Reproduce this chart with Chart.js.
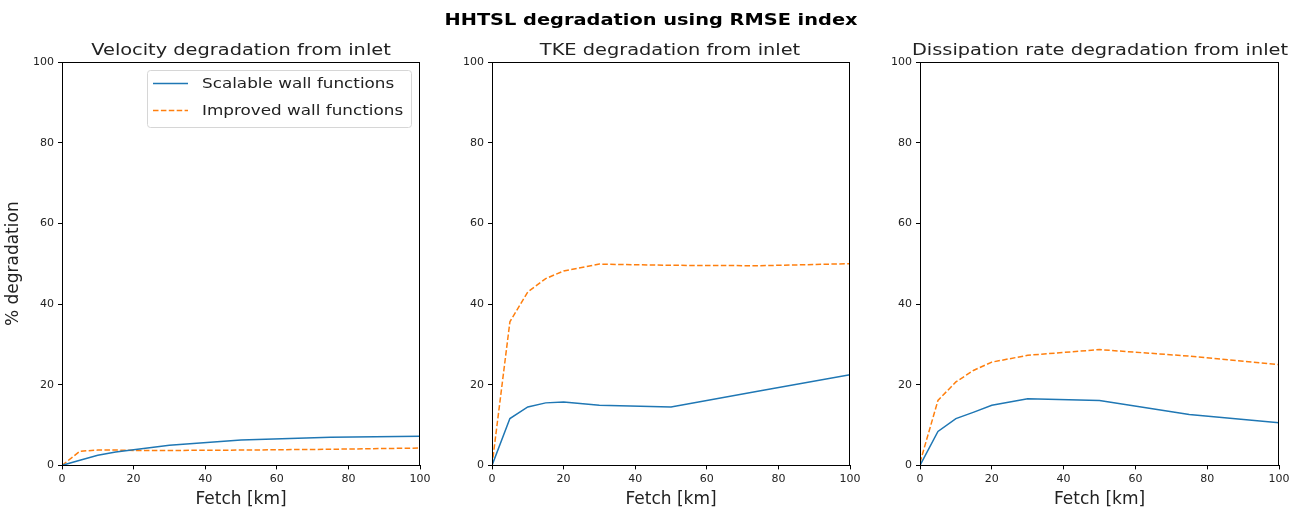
<!DOCTYPE html>
<html>
<head>
<meta charset="utf-8">
<script src="https://cdn.jsdelivr.net/npm/chart.js@4.4.1/dist/chart.umd.min.js"></script>
<style>
  html, body { margin:0; padding:0; background:#fff; width:1303px; height:513px; overflow:hidden; }
  .panel { position:absolute; top:0; height:513px; }
  .ttl { position:absolute; width:600px; text-align:center; font-family:"DejaVu Sans"; font-size:16px;
    line-height:20px; color:#222; white-space:nowrap; transform:scaleX(1.21); transform-origin:center; }
  #suptitle { top:10px; left:351px; font-weight:bold; color:#000; }
</style>
</head>
<body>
<div class="panel" style="left:0px;width:482px"><canvas id="c1"></canvas></div>
<div class="panel" style="left:430px;width:482px"><canvas id="c2"></canvas></div>
<div class="panel" style="left:858px;width:483px"><canvas id="c3"></canvas></div>
<div id="suptitle" class="ttl">HHTSL degradation using RMSE index</div>
<div id="t1" class="ttl" style="top:40px;left:-59px"></div>
<div id="t2" class="ttl" style="top:40px;left:370px"></div>
<div id="t3" class="ttl" style="top:40px;left:800px"></div>
<script>
const fetchKm = [0, 5, 10, 15, 20, 30, 50, 75, 100];
const seriesNames = ["Scalable wall functions", "Improved wall functions"];
const panelTitles = ["Velocity degradation from inlet", "TKE degradation from inlet", "Dissipation rate degradation from inlet"];
const velScalable = [0, 1.3, 2.5, 3.3, 3.9, 5.0, 6.3, 7.0, 7.2];
const velImproved = [0, 3.5, 3.8, 3.8, 3.7, 3.7, 3.8, 4.0, 4.3];
const tkeScalable = [0, 11.6, 14.5, 15.5, 15.7, 14.9, 14.5, 18.5, 22.5];
const tkeImproved = [0, 35.6, 43.0, 46.3, 48.2, 49.9, 49.6, 49.5, 50.0];
const dissScalable = [0, 8.4, 11.6, 13.2, 14.9, 16.5, 16.1, 12.6, 10.6];
const dissImproved = [0.7, 16.1, 20.7, 23.6, 25.6, 27.3, 28.7, 27.1, 25.0];
const yTicks = [0, 20, 40, 60, 80, 100];
const xTicks = [0, 20, 40, 60, 80, 100];

const FONT = "DejaVu Sans";
const BLUE = "#1f77b4", ORANGE = "#ff7f0e";

panelTitles.forEach((t, i) => { document.getElementById('t' + (i + 1)).textContent = t; });

const framePlugin = {
  id: 'frame',
  afterDraw(chart) {
    const a = chart.chartArea, ctx = chart.ctx;
    ctx.save();
    ctx.strokeStyle = '#000';
    ctx.lineWidth = 1;
    ctx.strokeRect(Math.round(a.left) + 0.5, Math.round(a.top) + 0.5, Math.round(a.right - a.left) - 1, Math.round(a.bottom - a.top));
    ctx.restore();
  }
};

const legendPlugin = {
  id: 'innerLegend',
  afterDraw(chart, args, opts) {
    if (!opts.show) return;
    const a = chart.chartArea, ctx = chart.ctx;
    const x0 = a.left + 85, y0 = a.top + 8, w = 264, h = 57;
    ctx.save();
    ctx.fillStyle = 'rgba(255,255,255,0.8)';
    ctx.strokeStyle = '#d6d6d6';
    ctx.lineWidth = 1;
    ctx.beginPath();
    ctx.roundRect(x0 + 0.5, y0 + 0.5, w, h, 3);
    ctx.fill(); ctx.stroke();
    chart.data.datasets.forEach((ds, i) => {
      const y = y0 + 13.5 + i * 27;
      ctx.strokeStyle = ds.borderColor;
      ctx.lineWidth = 1.5;
      ctx.setLineDash(ds.borderDash || []);
      ctx.beginPath(); ctx.moveTo(x0 + 6, y); ctx.lineTo(x0 + 41, y); ctx.stroke();
      ctx.setLineDash([]);
      ctx.save();
      ctx.translate(x0 + 55, y + 1);
      ctx.scale(1.2, 1);
      ctx.font = "14px " + FONT;
      ctx.textBaseline = 'middle';
      ctx.fillStyle = '#222';
      ctx.fillText(ds.label, 0, 0);
      ctx.restore();
    });
    ctx.restore();
  }
};

function makeChart(id, sA, sB, showYTitle, showLegend) {
  const toXY = arr => arr.map((v, i) => ({x: fetchKm[i], y: v}));
  new Chart(document.getElementById(id), {
    type: 'line',
    data: {
      datasets: [
        {label: seriesNames[0], data: toXY(sA), borderColor: BLUE, borderWidth: 1.5, pointRadius: 0, tension: 0, fill: false},
        {label: seriesNames[1], data: toXY(sB), borderColor: ORANGE, borderWidth: 1.5, borderDash: [5.5, 2.4], pointRadius: 0, tension: 0, fill: false}
      ]
    },
    options: {
      responsive: true,
      maintainAspectRatio: false,
      animation: false,
      layout: { padding: { top: 62, right: 62, bottom: 3, left: 3 } },
      plugins: {
        legend: { display: false },
        tooltip: { enabled: false },
        title: { display: false },
        innerLegend: { show: showLegend }
      },
      scales: {
        x: {
          type: 'linear', min: 0, max: 100,
          afterBuildTicks: s => { s.ticks = xTicks.map(v => ({value: v})); },
          grid: { drawOnChartArea: false, drawTicks: true, tickLength: 4, color: '#000' },
          border: { display: true, color: '#000' },
          ticks: { color: '#222', font: { family: FONT, size: 11 }, padding: 3, maxRotation: 0 },
          title: { display: true, text: 'Fetch [km]', color: '#222', font: { family: FONT, size: 17 }, padding: { top: 1, bottom: 0 } }
        },
        y: {
          min: 0, max: 100,
          afterBuildTicks: s => { s.ticks = yTicks.map(v => ({value: v})); },
          afterFit: s => { s.width = 59; },
          grid: { drawOnChartArea: false, drawTicks: true, tickLength: 4, color: '#000' },
          border: { display: true, color: '#000' },
          ticks: { color: '#222', font: { family: FONT, size: 11 }, padding: 4 },
          title: { display: showYTitle, text: '% degradation', color: '#222', font: { family: FONT, size: 17 }, padding: { top: 0, bottom: 0 } }
        }
      }
    },
    plugins: [framePlugin, legendPlugin]
  });
}

makeChart('c1', velScalable, velImproved, true, true);
makeChart('c2', tkeScalable, tkeImproved, false, false);
makeChart('c3', dissScalable, dissImproved, false, false);
</script>
</body>
</html>
